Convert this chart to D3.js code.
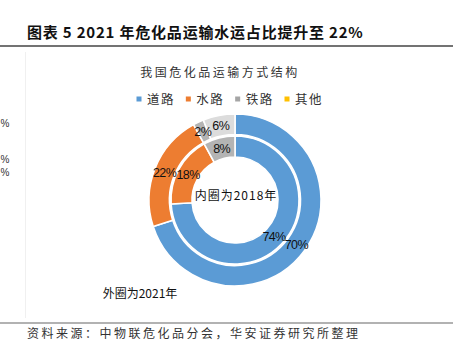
<!DOCTYPE html>
<html>
<head>
<meta charset="utf-8">
<script src="https://cdn.jsdelivr.net/npm/d3@7"></script>
<style>
  html, body { margin: 0; padding: 0; background: #fff; }
  svg { display: block; }
</style>
</head>
<body>
<svg id="chart" width="461" height="343"></svg>
<script>
// Transport modes and their shares (%)
const modes = ["道路", "水路", "铁路", "其他"];
const share2021 = [70, 22, 2, 6];   // outer ring
const share2018 = [74, 18, 8, 0];   // inner ring
const legendColors = ["#5b9bd5", "#ed7d31", "#a5a5a5", "#ffc000"];
const outerColors = ["#5b9bd5", "#ed7d31", "#b4b4b4", "#dcdcdc"];
const innerColors = ["#5b9bd5", "#ed7d31", "#b4b4b4", "#ffc000"];

const svg = d3.select("#chart");
const cjk = "'Noto Sans CJK SC', 'Noto Sans', sans-serif";
const latin = "'Liberation Sans', Arial, sans-serif";

// Faint frame edge of the chart box and the percent marks of the neighbouring panel
svg.append("line").attr("x1", 25.5).attr("x2", 25.5).attr("y1", 52).attr("y2", 318)
  .attr("stroke", "#f0f0f0").attr("stroke-width", 1);
[127, 163, 176].forEach(y => {
  svg.append("text").attr("x", 0.5).attr("y", y)
    .attr("font-family", latin).attr("font-size", 10).attr("fill", "#333").text("%");
});

// Header
svg.append("text").attr("x", 27).attr("y", 38)
  .attr("font-family", "'Noto Sans CJK SC', sans-serif").attr("font-weight", "bold")
  .attr("font-size", 15).attr("letter-spacing", 0.8).attr("fill", "#111")
  .text("图表 5 2021 年危化品运输水运占比提升至 22%");
svg.append("line").attr("x1", 0).attr("x2", 453).attr("y1", 46).attr("y2", 46)
  .attr("stroke", "#444").attr("stroke-width", 1.5);

// Footer
svg.append("line").attr("x1", 0).attr("x2", 453).attr("y1", 323).attr("y2", 323)
  .attr("stroke", "#666").attr("stroke-width", 1.2);
svg.append("text").attr("x", 27).attr("y", 338)
  .attr("font-family", cjk).attr("font-size", 12).attr("fill", "#333")
  .attr("letter-spacing", 2.5)
  .text("资料来源：中物联危化品分会，华安证券研究所整理");

// Chart title
svg.append("text").attr("x", 220).attr("y", 77).attr("text-anchor", "middle")
  .attr("font-family", cjk).attr("font-size", 12).attr("letter-spacing", 2.5)
  .attr("fill", "#333").text("我国危化品运输方式结构");

// Legend
const legendX = d3.scalePoint().domain(modes).range([139, 287]);
const lg = svg.append("g").selectAll("g").data(modes).join("g")
  .attr("transform", d => `translate(${legendX(d)},99)`);
lg.append("rect").attr("x", -2.5).attr("y", -2.5).attr("width", 5).attr("height", 5)
  .attr("fill", (d, i) => legendColors[i]);
lg.append("text").attr("x", 8).attr("y", 4.5)
  .attr("font-family", cjk).attr("font-size", 12.5).attr("letter-spacing", 1.5)
  .attr("fill", "#333").text(d => d);

// Doughnut rings
const cx = 235, cy = 200;
const pie = d3.pie().sort(null).value(d => d.v);
const g = svg.append("g").attr("transform", `translate(${cx},${cy})`);

function ring(values, colors, r0, r1) {
  const data = pie(values.map((v, i) => ({ v, i })));
  const arc = d3.arc().innerRadius(r0).outerRadius(r1);
  const grp = g.append("g");
  grp.selectAll("path").data(data.filter(d => d.data.v > 0)).join("path")
    .attr("d", arc).attr("fill", d => colors[d.data.i])
    .attr("stroke", "#fff").attr("stroke-width", 1.6);
  return { data, arc };
}

const outer = ring(share2021, outerColors, 65.5, 86);
const inner = ring(share2018, innerColors, 43, 64);

// Value labels at slice centroids
[inner, outer].forEach(r => {
  g.append("g").selectAll("text").data(r.data.filter(d => d.data.v > 0)).join("text")
    .attr("transform", d => `translate(${r.arc.centroid(d)})`)
    .attr("text-anchor", "middle").attr("dy", "0.36em")
    .attr("font-family", latin).attr("font-size", 12.5).attr("letter-spacing", -0.6)
    .attr("fill", "#111").text(d => d.data.v + "%");
});

// Ring annotations
svg.append("text").attr("x", 236).attr("y", 200).attr("text-anchor", "middle")
  .attr("font-family", cjk).attr("font-size", 12).attr("letter-spacing", 1)
  .attr("fill", "#111").text("内圈为2018年");
svg.append("text").attr("x", 140).attr("y", 298).attr("text-anchor", "middle")
  .attr("font-family", cjk).attr("font-size", 12).attr("fill", "#111")
  .text("外圈为2021年");
</script>
</body>
</html>
